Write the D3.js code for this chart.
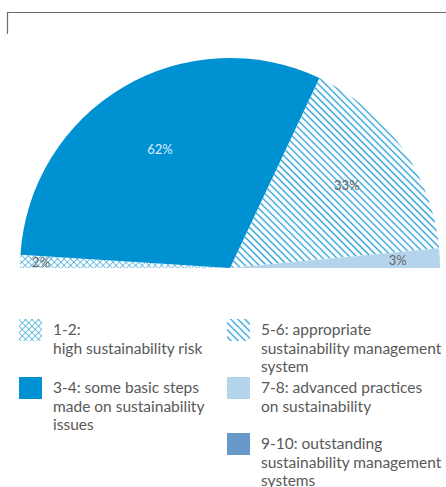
<!DOCTYPE html>
<html>
<head>
<meta charset="utf-8">
<script src="https://cdn.jsdelivr.net/npm/d3@7"></script>
<style>
  html, body { margin: 0; padding: 0; background: #fff; }
  svg { display: block; font-family: Lato, "Open Sans", sans-serif; }
</style>
</head>
<body>
<svg id="chart" width="446" height="487"></svg>
<script>
// score bands (legend text, one entry per line)
var categories = [
	["1-2:", "high sustainability risk"],
	["3-4: some basic steps", "made on sustainability", "issues"],
	["5-6: appropriate", "sustainability management", "system"],
	["7-8: advanced practices", "on sustainability"],
	["9-10: outstanding", "sustainability management", "systems"]
];
// share of companies per band, percent
var values = [2, 62, 33, 3, 0];

var svg = d3.select("#chart"), width = +svg.attr("width"), height = +svg.attr("height");

var blue = "#0091d3";
var fills = ["url(#cross)", blue, "url(#hatch)", "#b4d4ec", "#6699c9"];

// patterns
var defs = svg.append("defs");

var hatch = defs.append("pattern")
	.attr("id", "hatch")
	.attr("patternUnits", "userSpaceOnUse")
	.attr("width", 5).attr("height", 5)
	.attr("patternTransform", "rotate(-45)");
hatch.append("line")
	.attr("x1", 2.5).attr("y1", 0).attr("x2", 2.5).attr("y2", 5)
	.attr("stroke", "#1c9ad6").attr("stroke-width", 1.3);

var cross = defs.append("pattern")
	.attr("id", "cross")
	.attr("patternUnits", "userSpaceOnUse")
	.attr("width", 4.6).attr("height", 4.6)
	.attr("patternTransform", "rotate(45)");
cross.append("line")
	.attr("x1", 0).attr("y1", 0).attr("x2", 0).attr("y2", 4.6)
	.attr("stroke", "#1c9ad6").attr("stroke-width", 1.2);
cross.append("line")
	.attr("x1", 0).attr("y1", 0).attr("x2", 4.6).attr("y2", 0)
	.attr("stroke", "#1c9ad6").attr("stroke-width", 1.2);

// frame corner at top
svg.append("path")
	.attr("d", "M7.5,34 V12.5 H" + width)
	.attr("fill", "none")
	.attr("stroke", "#6e6e6e")
	.attr("stroke-width", 1.2);

// half pie
var cx = 230, cy = 268, radius = 210;

var pie = d3.pie()
	.sort(null)
	.startAngle(-Math.PI / 2)
	.endAngle(Math.PI / 2)
	.value(function(d) { return d; });

var arcs = pie(values);
var arc = d3.arc().innerRadius(0).outerRadius(radius);

var g = svg.append("g").attr("transform", "translate(" + cx + "," + cy + ")");

g.selectAll("path")
	.data(arcs)
	.enter()
	.append("path")
	.attr("d", arc)
	.attr("fill", function(d, i) { return fills[i]; });

// labels sit at different depths: small slices further out
var labelDepth = [0.9, 0.655, 0.68, 0.8];
g.selectAll("text.val")
	.data(arcs.filter(function(d) { return d.value > 0; }))
	.enter()
	.append("text")
	.attr("class", "val")
	.attr("transform", function(d, i) {
		var r = radius * labelDepth[i];
		var c = d3.arc().innerRadius(r).outerRadius(r).centroid(d);
		return "translate(" + c[0] + "," + c[1] + ")";
	})
	.attr("text-anchor", "middle")
	.attr("dy", "0.35em")
	.attr("font-size", 13)
	.attr("fill", function(d, i) { return i === 1 ? "#dceffa" : "#666"; })
	.text(function(d) { return d.value + "%"; });

// legend
var colX = [19, 227], rowY = [319, 377, 433];
var slots = [[0, 0], [0, 1], [1, 0], [1, 1], [1, 2]];

var item = svg.append("g")
	.selectAll("g")
	.data(categories)
	.enter()
	.append("g")
	.attr("transform", function(d, i) {
		return "translate(" + colX[slots[i][0]] + "," + rowY[slots[i][1]] + ")";
	});

item.append("rect")
	.attr("width", 23).attr("height", 22)
	.attr("fill", function(d, i) { return fills[i]; });

item.append("text")
	.attr("font-size", 15.5)
	.attr("fill", "#595959")
	.selectAll("tspan")
	.data(function(d) { return d; })
	.enter()
	.append("tspan")
	.attr("x", 34)
	.attr("y", function(d, j) { return 16 + j * 18.7; })
	.text(function(d) { return d; });
</script>
</body>
</html>
